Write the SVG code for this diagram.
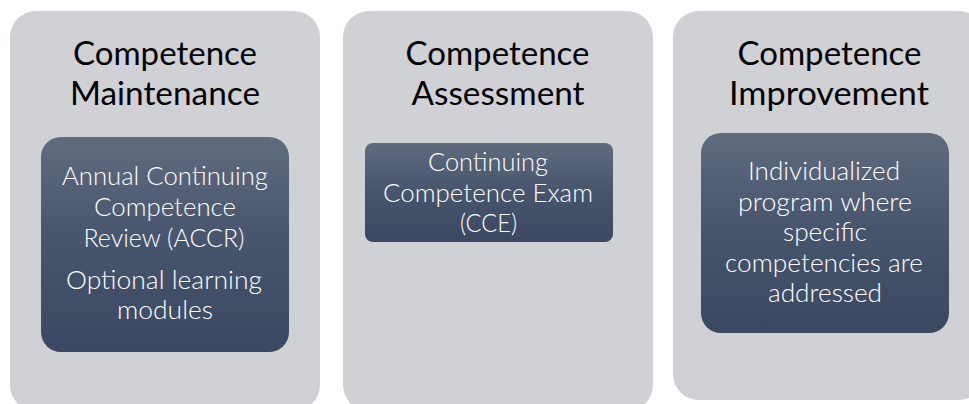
<svg xmlns="http://www.w3.org/2000/svg" width="969" height="404" viewBox="0 0 969 404">
<defs>
<linearGradient id="g" x1="0" y1="0" x2="0" y2="1">
<stop offset="0" stop-color="#606b7e"/>
<stop offset="0.5" stop-color="#46546c"/>
<stop offset="1" stop-color="#3a4961"/>
</linearGradient>
<style>
.col{fill:#d0d1d5}
.inner{fill:url(#g)}
.title{font-family:Lato,"Liberation Sans",sans-serif;font-size:33px;fill:#000;text-anchor:middle}
.body{font-family:Lato,"Liberation Sans",sans-serif;font-weight:300;font-size:26px;fill:#ffffff;text-anchor:middle}
</style>
</defs>
<rect width="969" height="404" fill="#ffffff"/>
<g id="maintenance">
<rect class="col" x="10" y="11" width="310" height="400" rx="26"/>
<text class="title" x="165" y="65" textLength="184" lengthAdjust="spacingAndGlyphs">Competence</text>
<text class="title" x="165" y="105" textLength="190" lengthAdjust="spacingAndGlyphs">Maintenance</text>
<rect class="inner" x="41" y="137" width="248" height="215" rx="20"/>
<text class="body" x="165" y="185" textLength="206" lengthAdjust="spacingAndGlyphs">Annual Continuing</text>
<text class="body" x="165" y="216" textLength="142" lengthAdjust="spacingAndGlyphs">Competence</text>
<text class="body" x="164" y="247" textLength="161" lengthAdjust="spacingAndGlyphs">Review (ACCR)</text>
<text class="body" x="164" y="289" textLength="196" lengthAdjust="spacingAndGlyphs">Optional learning</text>
<text class="body" x="165" y="319" textLength="96" lengthAdjust="spacingAndGlyphs">modules</text>
</g>
<g id="assessment">
<rect class="col" x="343" y="11" width="310" height="400" rx="26"/>
<text class="title" x="497.5" y="65" textLength="184" lengthAdjust="spacingAndGlyphs">Competence</text>
<text class="title" x="498" y="105" textLength="173" lengthAdjust="spacingAndGlyphs">Assessment</text>
<rect class="inner" x="365" y="143" width="248" height="99" rx="8"/>
<text class="body" x="488" y="171" textLength="120" lengthAdjust="spacingAndGlyphs">Continuing</text>
<text class="body" x="488" y="202" textLength="210" lengthAdjust="spacingAndGlyphs">Competence Exam</text>
<text class="body" x="488.5" y="232" textLength="57" lengthAdjust="spacingAndGlyphs">(CCE)</text>
</g>
<g id="improvement">
<rect class="col" x="673" y="11" width="312" height="389" rx="26"/>
<text class="title" x="829.5" y="65" textLength="184" lengthAdjust="spacingAndGlyphs">Competence</text>
<text class="title" x="829" y="105" textLength="200" lengthAdjust="spacingAndGlyphs">Improvement</text>
<rect class="inner" x="701" y="133" width="248" height="200" rx="20"/>
<text class="body" x="824" y="180" textLength="152" lengthAdjust="spacingAndGlyphs">Individualized</text>
<text class="body" x="825" y="210.5" textLength="174" lengthAdjust="spacingAndGlyphs">program where</text>
<text class="body" x="825" y="241" textLength="84" lengthAdjust="spacingAndGlyphs">specific</text>
<text class="body" x="824" y="271.5" textLength="198" lengthAdjust="spacingAndGlyphs">competencies are</text>
<text class="body" x="825" y="302" textLength="114" lengthAdjust="spacingAndGlyphs">addressed</text>
</g>
<g id="connectors"></g>
</svg>
